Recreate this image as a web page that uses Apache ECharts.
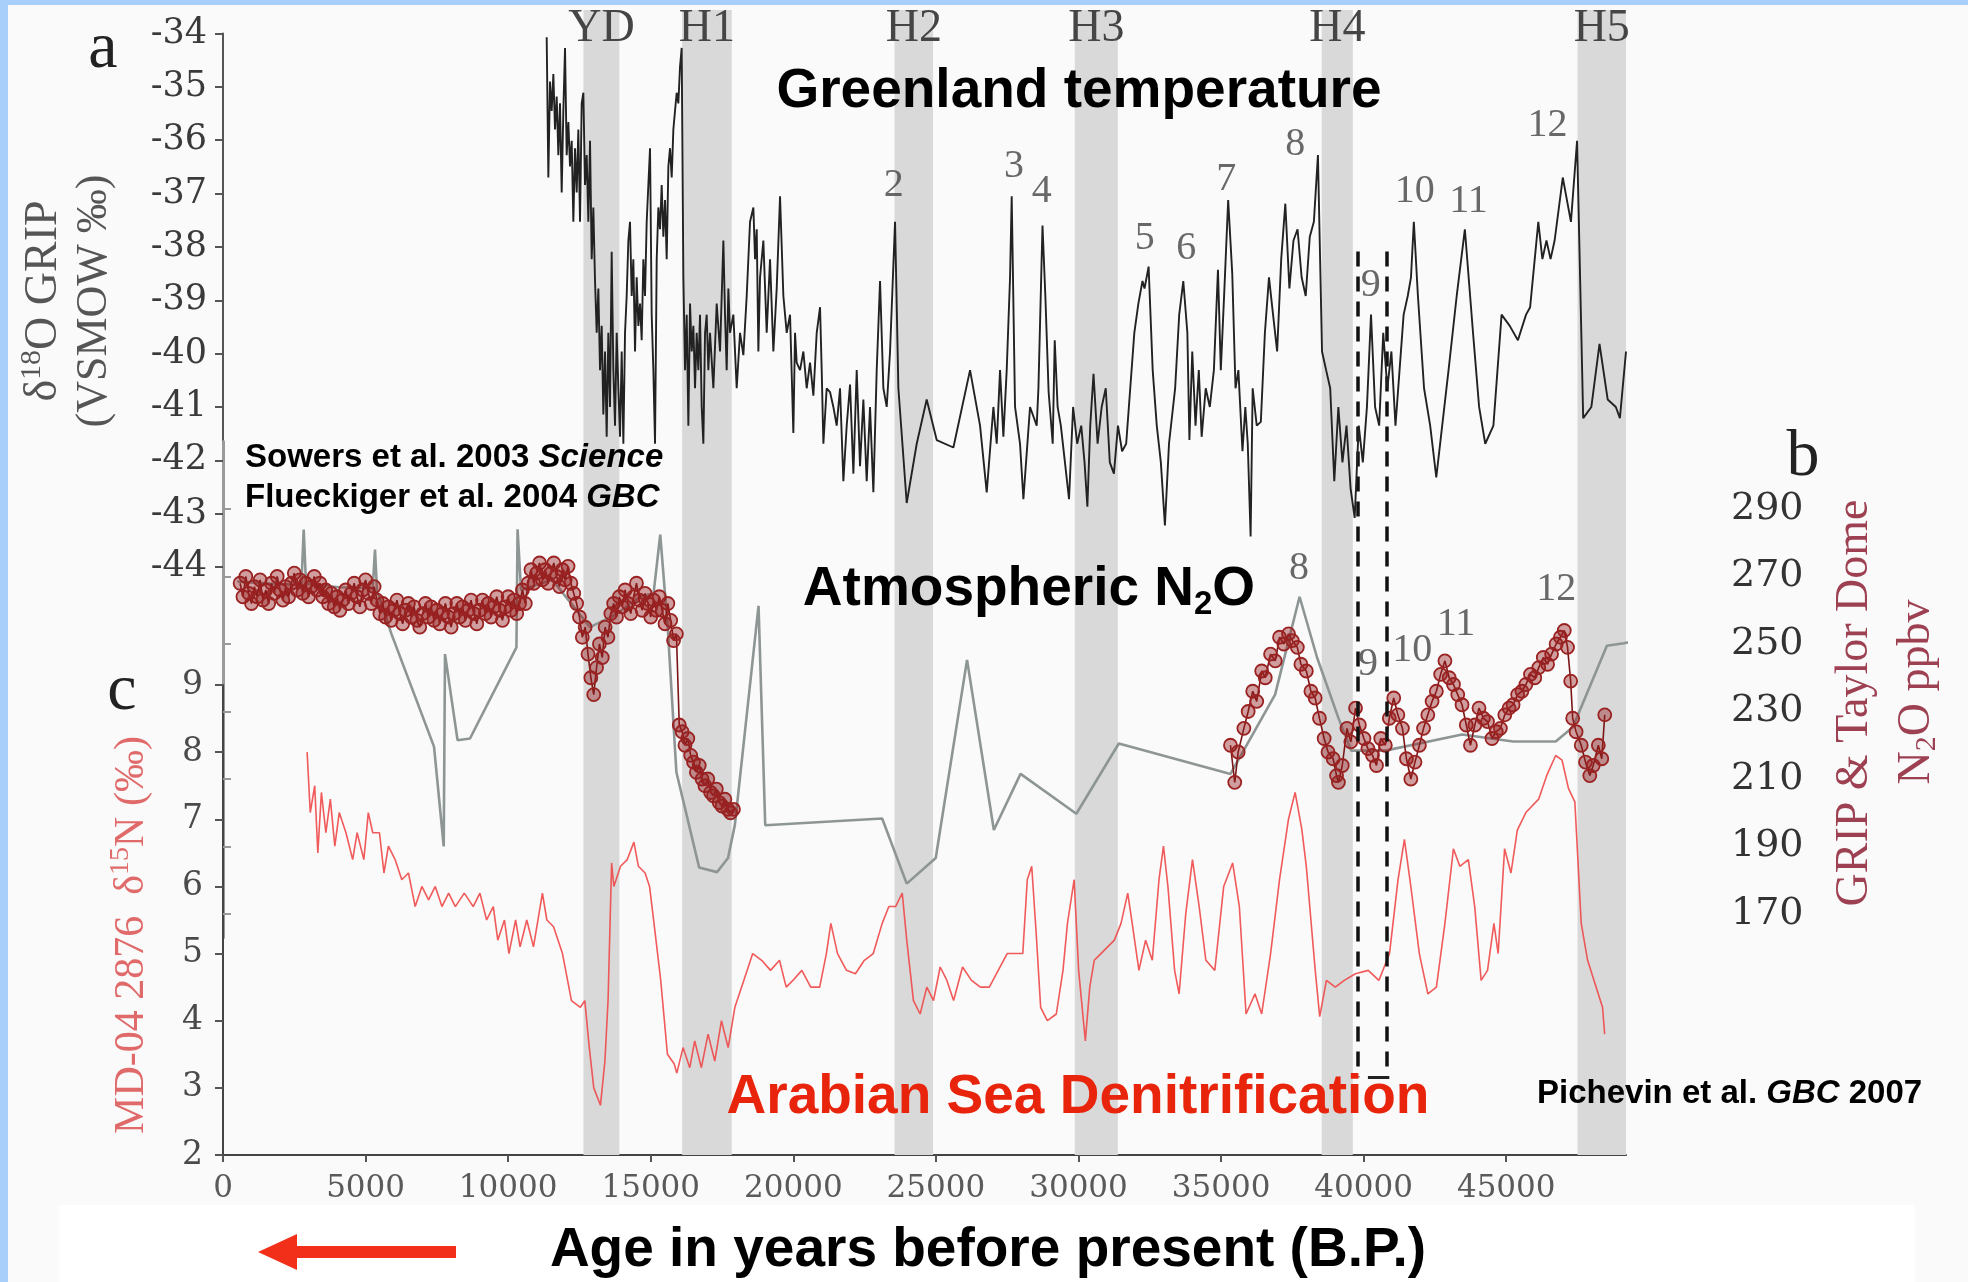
<!DOCTYPE html>
<html>
<head>
<meta charset="utf-8">
<script src="https://cdn.jsdelivr.net/npm/echarts@6/dist/echarts.min.js"></script>
<style>
  html, body { margin: 0; padding: 0; background: #fafafa; }
  #chart { width: 1968px; height: 1282px; }
</style>
</head>
<body>
<div id="chart"></div>
<script>
// ---- GRIP ice core d18O (permil VSMOW), [age BP, value] ----
const gripD18O = [
  [11351,-34.07],[11409,-36.70],[11468,-34.90],[11526,-35.45],[11585,-34.76],[11643,-35.80],[11702,-35.18],[11760,-36.28],
  [11818,-35.31],[11877,-36.98],[11935,-35.45],[11994,-34.27],[12052,-36.28],[12111,-35.66],[12169,-36.49],[12228,-36.01],
  [12286,-37.53],[12344,-36.15],[12403,-36.98],[12461,-35.80],[12520,-37.53],[12578,-35.31],[12637,-35.11],[12695,-36.84],
  [12754,-36.28],[12812,-37.53],[12871,-36.01],[12929,-38.23],[12987,-37.26],[13046,-38.64],[13104,-39.61],[13163,-38.78],
  [13221,-40.31],[13280,-39.48],[13338,-41.14],[13397,-39.96],[13455,-41.56],[13513,-39.61],[13572,-41.00],[13630,-38.09],
  [13689,-40.31],[13747,-41.35],[13806,-39.61],[13864,-40.65],[13923,-41.56],[13981,-39.96],[14040,-41.69],[14098,-39.61],
  [14156,-38.92],[14215,-37.88],[14273,-37.53],[14332,-38.92],[14390,-38.23],[14449,-39.96],[14507,-38.57],[14566,-39.48],
  [14624,-39.06],[14682,-39.75],[14741,-38.23],[14799,-38.92],[14858,-37.53],[14916,-36.84],[14975,-36.15],[15033,-39.27],
  [15092,-40.31],[15150,-41.69],[15209,-38.23],[15267,-37.26],[15325,-37.67],[15384,-36.84],[15442,-37.81],[15501,-37.12],
  [15559,-38.23],[15618,-36.49],[15676,-36.15],[15735,-36.70],[15793,-35.80],[15851,-35.45],[15910,-35.11],[15968,-35.31],
  [16027,-34.62],[16085,-34.27],[16144,-38.57],[16202,-40.31],[16261,-39.27],[16319,-41.35],[16378,-39.06],[16436,-39.96],
  [16495,-39.48],[16553,-40.65],[16611,-39.61],[16670,-40.31],[16728,-39.27],[16787,-41.00],[16845,-41.69],[16904,-39.61],
  [16962,-39.27],[17020,-40.31],[17079,-39.61],[17196,-40.65],[17313,-39.06],[17430,-39.96],[17547,-37.88],[17605,-39.27],
  [17663,-40.31],[17722,-38.78],[17780,-39.61],[17897,-39.27],[18014,-40.65],[18131,-39.61],[18248,-40.03],[18365,-38.92],
  [18482,-37.53],[18599,-37.26],[18657,-38.23],[18716,-37.67],[18774,-39.96],[18833,-38.57],[18949,-37.88],[19066,-39.61],
  [19183,-38.23],[19300,-39.96],[19417,-38.78],[19534,-37.05],[19651,-38.92],[19768,-39.61],[19885,-39.27],[20001,-41.49],
  [20060,-39.61],[20118,-40.17],[20235,-40.31],[20352,-39.96],[20469,-40.65],[20586,-40.17],[20703,-40.79],[20820,-39.61],
  [20937,-39.13],[20995,-40.31],[21054,-41.69],[21170,-40.65],[21287,-40.72],[21404,-41.00],[21521,-41.35],[21638,-40.65],
  [21755,-42.39],[21872,-41.35],[21989,-40.58],[22106,-42.25],[22223,-40.31],[22339,-42.11],[22456,-40.86],[22573,-42.39],
  [22690,-41.00],[22807,-42.60],[22924,-40.31],[23041,-38.64],[23158,-40.65],[23275,-41.00],[23392,-39.96],[23567,-37.53],
  [23684,-40.65],[23976,-42.80],[24327,-41.69],[24677,-40.86],[25028,-41.62],[25613,-41.76],[26197,-40.31],[26548,-41.35],
  [26782,-42.60],[27016,-41.00],[27133,-41.69],[27249,-40.31],[27366,-41.56],[27483,-40.31],[27600,-38.57],[27658,-37.05],
  [27775,-41.00],[27950,-41.69],[28068,-42.73],[28301,-41.00],[28535,-41.35],
  [28595,-40.65],[28738,-37.60],[28838,-38.92],[28953,-40.72],[29096,-41.69],[29167,-39.75],[29268,-41.00],[29381,-41.35],
  [29525,-42.04],[29668,-42.73],[29811,-41.00],[29954,-41.69],[30097,-41.35],[30212,-42.04],[30312,-42.87],[30412,-41.35],
  [30527,-40.38],[30670,-41.69],[30813,-41.00],[30956,-40.65],[31099,-42.04],[31242,-42.25],[31385,-41.35],[31529,-41.83],
  [31672,-41.69],[31815,-40.65],[31958,-39.61],[32101,-39.06],[32244,-38.64],[32316,-38.78],[32459,-38.37],[32602,-40.31],
  [32745,-41.35],[32888,-42.04],[33031,-43.22],[33174,-41.69],[33389,-40.65],[33532,-39.27],[33675,-38.64],[33818,-39.61],
  [33890,-41.62],[33990,-39.96],[34104,-41.35],[34219,-40.31],[34319,-41.56],[34462,-40.65],[34605,-41.00],[34748,-40.31],
  [34891,-38.43],[34991,-40.31],[35106,-38.92],[35249,-37.12],[35392,-38.50],[35507,-40.65],[35607,-40.31],[35750,-41.83],
  [35850,-41.00],[35936,-41.69],[36036,-43.43],[36108,-40.65],[36251,-41.35],[36394,-41.28],[36537,-39.61],[36680,-38.57],
  [36823,-39.27],[36966,-39.96],[37109,-38.23],[37253,-37.19],[37396,-38.78],[37539,-37.88],[37682,-37.67],[37825,-38.57],
  [37968,-38.92],[38111,-37.81],[38254,-37.53],[38397,-36.28],[38540,-39.96],[38684,-40.31],[38827,-40.65],[38970,-42.39],
  [39113,-41.00],[39256,-42.04],[39399,-41.35],[39542,-42.53],[39685,-43.08],[39828,-41.35],[39971,-42.04],[40115,-41.00],
  [40258,-39.27],[40401,-41.00],[40544,-41.35],[40687,-39.61],[40830,-40.65],[40973,-39.96],[41116,-41.35],[41259,-40.31],
  [41402,-39.27],[41546,-38.92],[41660,-38.57],[41760,-37.53],[41903,-38.92],[42118,-40.65],[42333,-41.35],[42547,-42.32],
  [42977,-40.31],[43263,-38.92],[43549,-37.67],[43835,-39.61],[44049,-41.00],[44264,-41.69],[44550,-41.35],[44837,-39.27],
  [45123,-39.48],[45409,-39.75],[45695,-39.27],[45838,-39.13],[46125,-37.53],[46268,-38.23],[46411,-37.88],[46554,-38.23],
  [46697,-37.88],[46983,-36.70],[47269,-37.53],[47484,-36.01],[47699,-41.21],[47985,-41.00],[48271,-39.82],[48557,-40.86],
  [48843,-41.00],[48986,-41.21],[49200,-39.96]
];

// ---- Atmospheric N2O, GRIP & Taylor Dome compilation (ppbv) ----
const n2oSpline = [
  [500,268.5],[1641,267.9],[2750,267.5],[2830,283.9],[2911,267.9],[4065,266.8],[5250,266.5],[5330,278],[5400,266],
  [5906,253],[7400,219.6],[7740,190],[7785,247],[8225,221.5],[8662,222],[10290,249],[10330,284],[10451,266],
  [11550,269],[12870,255],[13750,258.6],[14630,264],[15100,265],[15333,282.4],[15595,254.9],[15900,212],[16697,183.8],
  [17325,182.4],[17710,186.6],[17950,196.4],[18780,261.3],[19015,196.3],[23115,198.3],[23977,179],[24994,186.6],
  [26092,245.3],[27032,194.9],[27968,211.5],[29925,199.7],[31414,220.5],[35330,211.5],[36894,235],[37753,264],
  [38366,246],[39114,228.1],[39559,218.4],[40758,218.4],[43452,223.2],[45240,221.1],[46734,221.1],[47334,225.3],
  [48530,249.5],[49126,250.2],[50770,253.6]
];

// ---- Atmospheric N2O measurements (ppbv) ----
const n2oSamples = [
  [600,268],[700,264],[800,270],[900,265],[1000,262],[1100,267],[1200,264],[1300,269],[1400,263],[1500,266],
  [1600,262],[1700,268],[1800,265],[1900,270],[2000,266],[2100,263],[2200,267],[2300,264],[2400,268],[2500,271],
  [2600,266],[2700,269],[2800,265],[2900,268],[3000,264],[3100,267],[3200,270],[3300,266],[3400,268],[3500,264],
  [3600,266],[3700,262],[3800,265],[3900,261],[4000,264],[4100,260],[4200,263],[4300,266],[4400,262],[4500,265],
  [4600,268],[4700,264],[4800,261],[4900,266],[5000,269],[5100,265],[5200,262],[5300,267],[5400,263],[5500,259],
  [5600,262],[5700,258],[5800,261],[5900,257],[6000,260],[6100,263],[6200,259],[6300,256],[6400,260],[6500,262],
  [6600,258],[6700,261],[6800,257],[6900,255],[7000,259],[7100,262],[7200,258],[7300,261],[7400,257],[7500,260],
  [7600,256],[7700,259],[7800,262],[7900,258],[8000,255],[8100,259],[8200,262],[8300,258],[8400,261],[8500,257],
  [8600,260],[8700,263],[8800,259],[8900,256],[9000,260],[9100,263],[9200,259],[9300,262],[9400,258],[9500,261],
  [9600,264],[9700,260],[9800,257],[9900,261],[10000,264],[10100,260],[10200,263],[10300,259],[10400,262],[10500,266],
  [10600,262],[10700,268],[10800,272],[10900,268],[11000,271],[11100,274],[11200,269],[11300,272],[11400,268],[11500,271],
  [11600,274],[11700,270],[11800,267],[11900,272],[12000,269],[12100,273],[12200,268],[12300,265],[12400,262],[12500,258],
  [12600,252],[12700,255],[12800,247],[12900,240],[13000,235],[13100,243],[13200,250],[13300,246],[13400,255],[13500,252],
  [13600,259],[13700,262],[13800,258],[13900,264],[14000,261],[14100,266],[14200,262],[14300,259],[14400,264],[14500,268],
  [14600,263],[14700,260],[14800,265],[14900,262],[15000,258],[15100,263],[15200,260],[15300,264],[15400,260],[15500,256],
  [15600,262],[15700,257],[15800,251],[15900,253],
  [16000,226],[16100,224],[16200,220],[16300,222],[16400,217],[16500,215],[16600,212],[16700,214],[16800,210],[16900,208],
  [17000,210],[17100,206],[17200,205],[17300,207],[17400,203],[17500,202],[17600,204],[17700,201],[17800,200],[17900,201],
  null,
  [35330,220],[35480,209],[35600,218],[35800,225],[35950,230],[36110,236],[36250,233],[36425,242],[36550,240],[36735,247],
  [36900,245],[37050,252],[37200,250],[37365,253],[37500,251],[37675,249],[37800,244],[37990,242],[38150,236],[38300,234],
  [38450,228],[38615,222],[38750,218],[38930,216],[39050,211],[39115,209],[39250,214],[39415,225],[39550,221],[39715,231],
  [39850,226],[40010,222],[40150,219],[40310,217],[40450,214],[40600,222],[40760,220],[40900,228],[41055,234],[41200,229],
  [41360,225],[41500,216],[41655,210],[41800,215],[41955,220],[42100,225],[42250,229],[42400,233],[42550,236],[42700,241],
  [42850,245],[43000,240],[43150,238],[43300,235],[43450,232],[43600,226],[43745,220],[43900,226],[44045,231],[44200,228],
  [44345,227],[44500,222],[44650,224],[44795,225],[44950,229],[45100,231],[45240,232],[45400,235],[45550,236],[45690,238],
  [45850,241],[46000,240],[46140,243],[46300,246],[46450,244],[46590,247],[46750,250],[46900,252],[47035,254],[47150,249],
  [47260,239],[47330,228],[47450,224],[47630,220],[47780,215],[47930,211],[48050,214],[48230,220],[48350,216],[48455,229]
];

// ---- MD-04 2876 sediment d15N (permil) ----
const md042876D15N = [
  [2950,8.0],[3060,7.1],[3216,7.5],[3326,6.5],[3451,7.4],[3608,6.8],[3764,7.3],[3921,6.6],[4077,7.1],[4312,6.8],
  [4547,6.4],[4704,6.8],[4939,6.4],[5095,7.1],[5252,6.8],[5487,6.8],[5644,6.2],[5800,6.6],[6035,6.4],[6270,6.1],
  [6504,6.2],[6739,5.7],[6974,6.0],[7209,5.8],[7443,6.0],[7678,5.7],[7913,5.9],[8148,5.7],[8461,5.9],[8774,5.7],
  [9009,5.9],[9244,5.5],[9479,5.7],[9636,5.2],[9870,5.5],[10027,5.0],[10262,5.5],[10418,5.1],[10653,5.5],[10888,5.1],
  [11201,5.9],[11357,5.5],[11592,5.4],[11905,5.0],[12219,4.3],[12532,4.2],[12688,4.3],[12845,3.6],[13002,3.0],[13237,2.74],
  [13393,3.4],[13503,4.3],[13628,6.35],[13706,6.0],[13941,6.3],[14176,6.4],[14410,6.66],[14567,6.3],[14802,6.2],[14958,6.0],
  [15115,5.45],[15350,4.6],[15585,3.5],[15820,3.36],[15914,3.22],[16133,3.6],[16368,3.3],[16541,3.7],[16775,3.3],[17010,3.8],
  [17245,3.4],[17480,4.0],[17715,3.6],[17950,4.2],[18263,4.6],[18576,5.0],[18889,4.9],[19202,4.75],[19515,4.9],[19750,4.5],
  [19985,4.6],[20298,4.75],[20611,4.5],[20924,4.5],[21159,5.0],[21316,5.45],[21550,5.0],[21864,4.75],[22177,4.7],[22490,4.9],
  [22803,5.0],[23116,5.45],[23351,5.7],[23586,5.7],[23820,5.9],[23977,5.2],[24212,4.3],[24447,4.1],[24681,4.5],[24916,4.3],
  [25150,4.8],[25385,4.6],[25620,4.3],[25934,4.8],[26247,4.6],[26560,4.5],[26873,4.5],[27186,4.75],[27499,5.0],[27812,5.0],
  [28047,5.0],[28204,6.1],[28360,6.3],[28517,5.3],[28673,4.2],[28908,4.0],[29222,4.1],[29457,4.75],[29613,5.45],[29848,6.1],
  [30005,4.75],[30240,3.7],[30396,4.5],[30553,4.9],[30788,5.0],[31023,5.1],[31258,5.2],[31492,5.45],[31727,5.9],[31884,5.45],
  [32119,4.75],[32354,5.2],[32588,4.9],[32823,6.1],[32980,6.6],[33136,6.0],[33371,4.75],[33528,4.4],[33763,5.6],[33997,6.4],
  [34232,5.7],[34467,4.9],[34780,4.75],[35093,6.0],[35406,6.35],[35641,5.7],[35876,4.1],[36189,4.4],[36424,4.1],[36737,5.0],
  [37050,6.1],[37363,7.0],[37597,7.4],[37832,6.85],[37989,6.3],[38302,4.75],[38459,4.06],[38694,4.6],[39007,4.5],[39320,4.6],
  [39712,4.7],[40160,4.75],[40534,4.6],[40907,5.0],[41206,6.1],[41430,6.7],[41654,6.0],[41953,5.0],[42252,4.4],[42551,4.5],
  [42850,5.45],[43148,6.56],[43372,6.3],[43671,6.4],[43895,5.7],[44120,4.6],[44344,4.75],[44568,5.45],[44717,5.0],[44942,6.56],
  [45166,6.2],[45389,6.84],[45688,7.1],[46137,7.3],[46436,7.67],[46734,7.95],[46958,7.88],[47182,7.46],[47406,7.26],[47630,5.45],
  [47854,4.9],[48153,4.5],[48377,4.2],[48452,3.8]
];

// ---- Younger Dryas and Heinrich stadials (age BP) ----
const stadialNames = ['YD', 'H1', 'H2', 'H3', 'H4', 'H5'];
const stadialStart = [12640, 16100, 23550, 29870, 38530, 47500];
const stadialEnd   = [13900, 17840, 24900, 31380, 39620, 49200];

// ---- Dansgaard-Oeschger interstadial numbers ----
const interstadialD18O = [
  [23520,-36.85,'2'],[27740,-36.5,'3'],[28710,-36.97,'4'],[32320,-37.84,'5'],[33780,-38.03,'6'],[35180,-36.74,'7'],
  [37600,-36.08,'8'],[40250,-38.73,'9'],[41790,-36.97,'10'],[43680,-37.14,'11'],[46450,-35.72,'12']
];
const interstadialN2O = [
  [37730,272.3,'8'],[40150,243.8,'9'],[41700,248,'10'],[43240,255.9,'11'],[46750,266,'12']
];

// interval bracketing interstadial 9
const is9Bounds = [39790, 40800];

// ---- tick values ----
const ageTicks = [0, 5000, 10000, 15000, 20000, 25000, 30000, 35000, 40000, 45000];
const n2oTicks = [170, 190, 210, 230, 250, 270, 290];

// ---------------------------------------------------------------
const chart = echarts.init(document.getElementById('chart'), null, { renderer: 'canvas' });

const SERIF = '"Liberation Serif", "Times New Roman", serif';
const DSERIF = '"DejaVu Serif", serif';
const SANS = '"Liberation Sans", Arial, sans-serif';

const ctx = document.createElement('canvas').getContext('2d');
function measure(font, text) { ctx.font = font; return ctx.measureText(text).width; }

// lay out a run of differently styled pieces as one line of text
function textRun(parts, x, y, opts) {
  opts = opts || {};
  const widths = parts.map(p => measure(p.font, p.t));
  const total = widths.reduce((a, b) => a + b, 0);
  let cur = opts.anchor === 'left' ? 0 : -total / 2;
  const children = parts.map((p, i) => {
    const el = {
      type: 'text', x: cur, y: p.dy || 0, z: 100,
      style: { text: p.t, font: p.font, fill: p.fill || opts.fill || '#000',
               textAlign: 'left', textVerticalAlign: 'middle' }
    };
    cur += widths[i];
    return el;
  });
  return { type: 'group', x: x, y: y, rotation: opts.rotation || 0, z: 100, children: children };
}

const L = 223, R = 342;             // shared horizontal extent of all panels
const AGE_MAX = 49200;

const grids = [
  { left: L, right: R, top: 10,    bottom: 127 },     // stadial shading
  { left: L, right: R, top: 33.5,  bottom: 715 },     // a: GRIP d18O
  { left: L, right: R, top: 441.5, bottom: 344.4 },   // b: N2O
  { left: L, right: R, top: 685,   bottom: 127 }      // c: d15N
];

function hiddenX(i) {
  return { type: 'value', gridIndex: i, min: 0, max: AGE_MAX, show: false };
}

const xAxes = [
  hiddenX(0), hiddenX(1), hiddenX(2),
  {
    type: 'value', gridIndex: 3, min: 0, max: AGE_MAX,
    axisLine: { show: true, lineStyle: { color: '#444', width: 2 } },
    axisTick: { show: true, customValues: ageTicks, length: 7, lineStyle: { color: '#555', width: 2 } },
    axisLabel: { customValues: ageTicks, formatter: v => String(v), margin: 18,
                 fontFamily: DSERIF, fontSize: 31, color: '#5a5a5a' },
    splitLine: { show: false }
  }
];

const yAxes = [
  { type: 'value', gridIndex: 0, min: 0, max: 1, show: false },
  {
    type: 'value', gridIndex: 1, min: -44, max: -34, interval: 1, position: 'left',
    axisLine: { show: true, lineStyle: { color: '#555', width: 2 } },
    axisTick: { show: true, length: 8, lineStyle: { color: '#555', width: 2 } },
    axisLabel: { margin: 16, fontFamily: DSERIF, fontSize: 35, color: '#3a3a3a' },
    splitLine: { show: false }
  },
  {
    type: 'value', gridIndex: 2, min: 163, max: 310, position: 'right', offset: 65,
    axisLine: { show: true, lineStyle: { color: '#9a9a9a', width: 3 } },
    axisTick: { show: true, customValues: n2oTicks, length: 8, lineStyle: { color: '#9a9a9a', width: 2 } },
    axisLabel: { customValues: n2oTicks, margin: 40, fontFamily: DSERIF, fontSize: 38, color: '#333' },
    splitLine: { show: false }
  },
  {
    type: 'value', gridIndex: 3, min: 2, max: 9, interval: 1, position: 'left',
    axisLine: { show: true, lineStyle: { color: '#444', width: 2 } },
    axisTick: { show: true, length: 8, lineStyle: { color: '#555', width: 2 } },
    axisLabel: { margin: 20, fontFamily: DSERIF, fontSize: 33, color: '#4a4a4a' },
    splitLine: { show: false }
  }
];

const stadialAreas = stadialNames.map((n, i) => [
  { name: n, xAxis: stadialStart[i] }, { xAxis: stadialEnd[i] }
]);

const IS9_TOP = 0.789, IS9_BOTTOM = 0.068;   // vertical reach of the bracket within the shading panel

const series = [
  {
    name: 'stadials', type: 'line', xAxisIndex: 0, yAxisIndex: 0, data: [], z: 0,
    markArea: {
      silent: true,
      itemStyle: { color: '#d9d9d9' },
      label: { show: true, position: 'insideTop', distance: 0, offset: [0, -4],
               fontFamily: SERIF, fontSize: 46, color: '#454545' },
      data: stadialAreas
    }
  },
  {
    name: 'MD-04 2876 d15N', type: 'line', xAxisIndex: 3, yAxisIndex: 3, z: 2,
    data: md042876D15N, showSymbol: false, symbol: 'none',
    lineStyle: { color: '#f04848', width: 1.6, opacity: 0.9 }
  },
  {
    name: 'N2O GRIP & Taylor Dome', type: 'line', xAxisIndex: 2, yAxisIndex: 2, z: 3,
    data: n2oSpline, showSymbol: false, symbol: 'none', clip: false,
    lineStyle: { color: '#8e9595', width: 2.6 }
  },
  {
    name: 'N2O samples', type: 'line', xAxisIndex: 2, yAxisIndex: 2, z: 4,
    data: n2oSamples, symbol: 'circle', symbolSize: 13, showSymbol: true, connectNulls: false,
    lineStyle: { color: '#7c1515', width: 1.6 },
    itemStyle: { color: 'rgba(150,30,30,0.42)', borderColor: '#9a2222', borderWidth: 1.8 }
  },
  {
    name: 'GRIP d18O', type: 'line', xAxisIndex: 1, yAxisIndex: 1, z: 5,
    data: gripD18O, showSymbol: false, symbol: 'none',
    lineStyle: { color: '#222', width: 1.9 }
  },
  {
    name: 'interstadials a', type: 'scatter', xAxisIndex: 1, yAxisIndex: 1, z: 6,
    data: interstadialD18O, symbolSize: 1, itemStyle: { color: 'rgba(0,0,0,0)' },
    label: { show: true, position: 'inside', formatter: p => p.value[2],
             fontFamily: SERIF, fontSize: 40, color: '#444' }
  },
  {
    name: 'interstadials b', type: 'scatter', xAxisIndex: 2, yAxisIndex: 2, z: 6,
    data: interstadialN2O, symbolSize: 1, itemStyle: { color: 'rgba(0,0,0,0)' },
    label: { show: true, position: 'inside', formatter: p => p.value[2],
             fontFamily: SERIF, fontSize: 40, color: '#444' }
  },
  {
    name: 'IS9 bracket', type: 'line', xAxisIndex: 0, yAxisIndex: 0, data: [], z: 8,
    markLine: {
      silent: true, symbol: ['none', 'none'], label: { show: false },
      lineStyle: { color: '#111', width: 3.5, type: [15, 10] },
      data: [
        [{ coord: [is9Bounds[0], IS9_TOP] }, { coord: [is9Bounds[0], IS9_BOTTOM] }],
        [{ coord: [is9Bounds[1], IS9_TOP] }, { coord: [is9Bounds[1], IS9_BOTTOM] }],
        [{ coord: [is9Bounds[1] - 650, IS9_BOTTOM], lineStyle: { type: 'solid', width: 3, color: '#222' } },
         { coord: [is9Bounds[1] + 100, IS9_BOTTOM] }]
      ]
    }
  }
];

// ---- annotations ----
const TITLE = 'bold 55px ' + SANS;
const SUB = 'bold 33px ' + SANS;
const CITE = 'bold 33px ' + SANS;
const CITE_I = 'italic bold 33px ' + SANS;
const NAME = '46px ' + SERIF;
const NAME_SUP = '30px ' + SERIF;
const PANEL = '66px ' + SERIF;

const graphic = [
  { type: 'rect', z: 90, shape: { x: 0, y: 0, width: 8, height: 1282 }, style: { fill: '#a8cffa' } },
  { type: 'rect', z: 90, shape: { x: 0, y: 0, width: 1968, height: 5 }, style: { fill: '#a8cffa' } },
  { type: 'rect', z: 90, shape: { x: 59, y: 1205, width: 1856, height: 77 }, style: { fill: '#ffffff' } },

  textRun([{ t: 'Greenland temperature', font: TITLE }], 1079, 92),
  textRun([{ t: 'Atmospheric N', font: TITLE }, { t: '2', font: SUB, dy: 15 }, { t: 'O', font: TITLE }], 1029, 590),
  textRun([{ t: 'Arabian Sea Denitrification', font: TITLE, fill: '#e8250c' }], 1078, 1098),
  textRun([{ t: 'Age in years before present (B.P.)', font: TITLE }], 988, 1251),

  textRun([{ t: 'Sowers et al. 2003 ', font: CITE }, { t: 'Science', font: CITE_I }], 245, 458, { anchor: 'left' }),
  textRun([{ t: 'Flueckiger et al. 2004 ', font: CITE }, { t: 'GBC', font: CITE_I }], 245, 498, { anchor: 'left' }),
  textRun([{ t: 'Pichevin et al. ', font: CITE }, { t: 'GBC', font: CITE_I }, { t: ' 2007', font: CITE }], 1537, 1094, { anchor: 'left' }),

  textRun([{ t: 'a', font: PANEL, fill: '#222' }], 103, 50),
  textRun([{ t: 'b', font: PANEL, fill: '#222' }], 1803, 458),
  textRun([{ t: 'c', font: PANEL, fill: '#222' }], 122, 692),

  textRun([{ t: 'δ', font: NAME }, { t: '18', font: NAME_SUP, dy: -12 }, { t: 'O GRIP', font: NAME }],
          44, 301, { rotation: Math.PI / 2, fill: '#555' }),
  textRun([{ t: '(VSMOW ‰)', font: '44px ' + SERIF }], 94, 301, { rotation: Math.PI / 2, fill: '#555' }),
  textRun([{ t: 'MD-04 2876  δ', font: '42px ' + SERIF }, { t: '15', font: '28px ' + SERIF, dy: -11 },
           { t: 'N (‰)', font: '42px ' + SERIF }],
          132, 935, { rotation: Math.PI / 2, fill: '#e06a6a' }),
  textRun([{ t: 'GRIP & Taylor Dome', font: NAME }], 1855, 703, { rotation: Math.PI / 2, fill: '#9c4052' }),
  textRun([{ t: 'N', font: NAME }, { t: '2', font: NAME_SUP, dy: 10 }, { t: 'O ppbv', font: NAME }],
          1917, 692, { rotation: Math.PI / 2, fill: '#9c4052' }),

  // arrow pointing toward the present
  { type: 'rect', z: 95, shape: { x: 290, y: 1246, width: 166, height: 12 }, style: { fill: '#f2301a' } },
  { type: 'polygon', z: 95, shape: { points: [[258, 1252], [297, 1234], [297, 1270]] }, style: { fill: '#f2301a' } }
];

chart.setOption({
  animation: false,
  backgroundColor: '#fafafa',
  grid: grids,
  xAxis: xAxes,
  yAxis: yAxes,
  series: series,
  graphic: graphic
});
</script>
</body>
</html>
